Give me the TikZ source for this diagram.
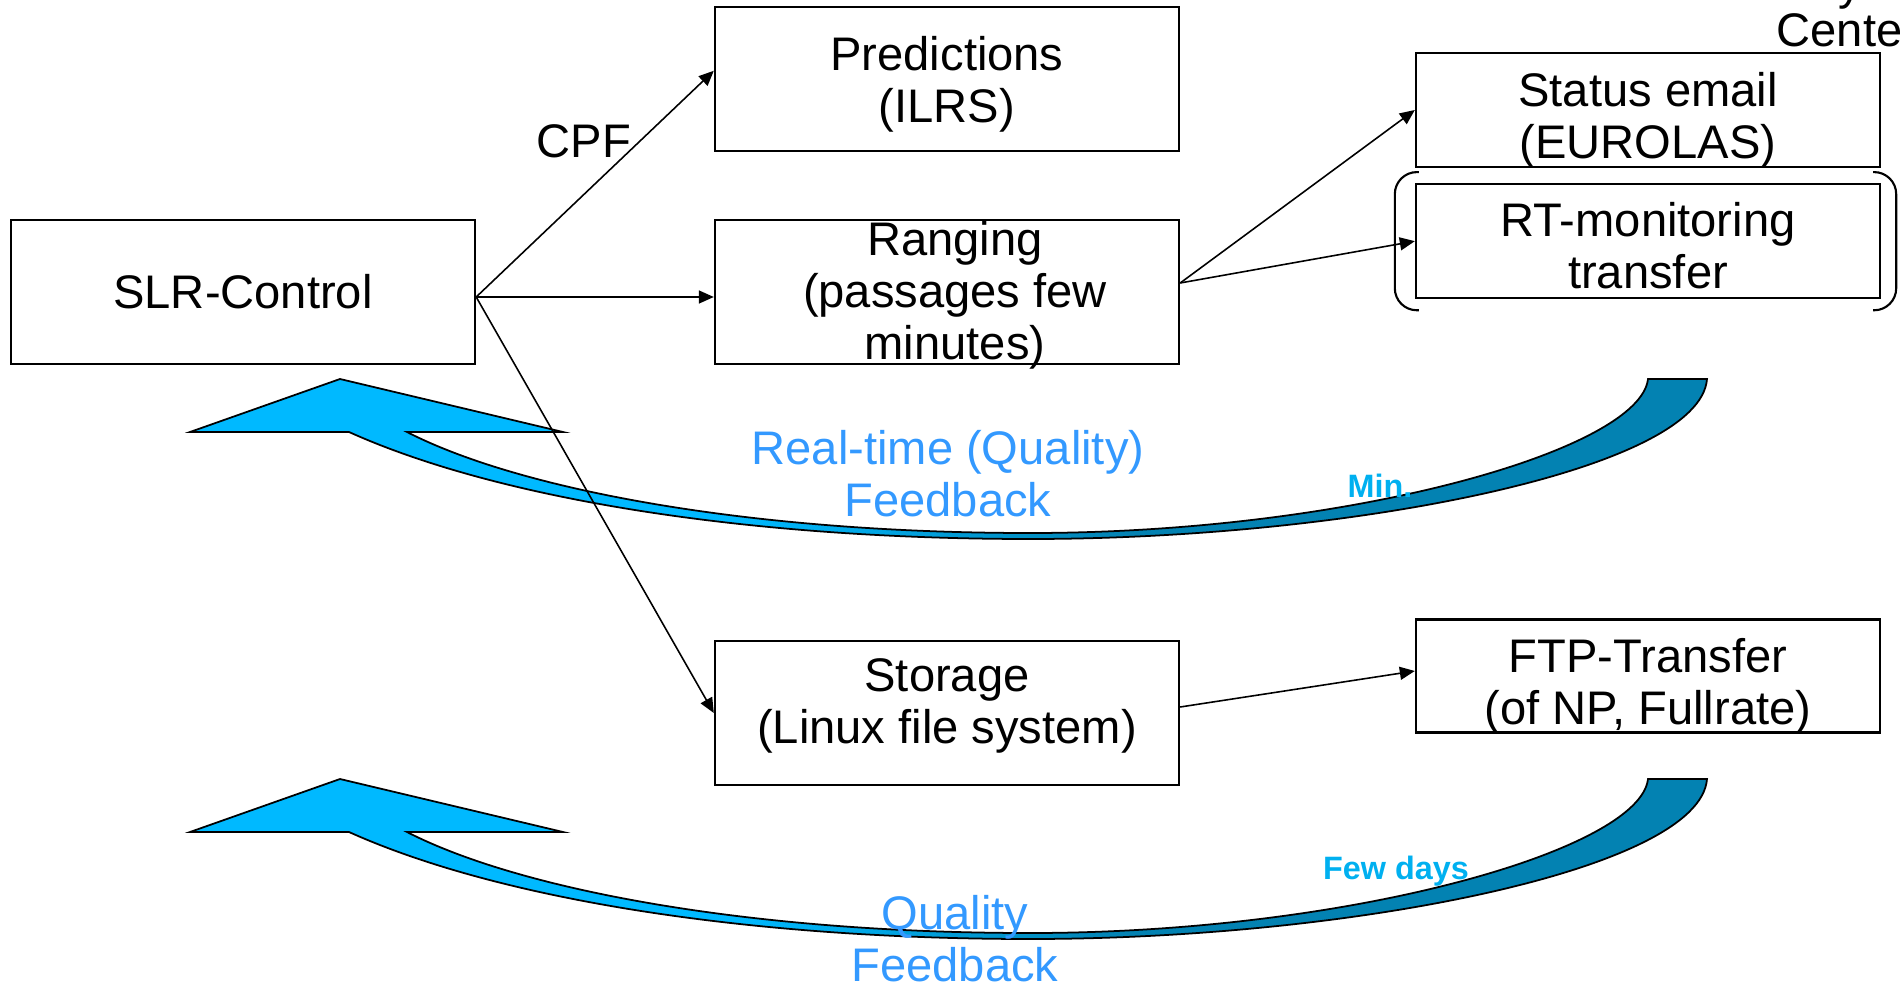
\documentclass[tikz,border=0pt]{standalone}
\usepackage{fontspec}
\setmainfont{Liberation Sans}
\usetikzlibrary{positioning,arrows.meta}

\definecolor{fbcyan}{RGB}{0,185,255}
\definecolor{fbdark}{RGB}{3,130,178}
\definecolor{fbtext}{RGB}{51,153,255}
\definecolor{timetext}{RGB}{0,176,240}

\pgfdeclarehorizontalshading{fbshade}{100bp}{color(0bp)=(fbcyan); color(43bp)=(fbcyan); color(56bp)=(fbdark); color(100bp)=(fbdark)}

\newcommand{\boxfont}{\fontsize{13.4}{14.8}\selectfont}
\newcommand{\timefont}{\fontsize{9.2}{10}\selectfont\bfseries}

\begin{document}
\begin{tikzpicture}[x=0.01cm, y=-0.01cm,
    box/.style = {draw, line width=0.6pt, minimum width=4.64cm, minimum height=1.44cm,
                  inner sep=0pt, align=center, font=\boxfont},
    sbox/.style = {box, minimum height=1.14cm},
    txt/.style = {align=center, inner sep=0pt, font=\boxfont},
    flow/.style = {line width=0.45pt, -{Triangle[length=0.15cm, width=0.13cm]}},
    fb/.style = {shading=fbshade, draw, line width=0.5pt},
    fbtxt/.style = {txt, text=fbtext},
    when/.style = {inner sep=0pt, text=timetext, font=\timefont}]
  \useasboundingbox (0,0) rectangle (1900,988);

  % feedback arrows
  \foreach \dy in {0,400}
    \shadedraw[fb, shift={(0,\dy)}] (340,379) -- (190,432) -- (349,432)
      .. controls (500,500) and (750,539) .. (1030,539)
      .. controls (1350,539) and (1700,470) .. (1707,379)
      -- (1648,379)
      .. controls (1640,450) and (1350,533) .. (1030,533)
      .. controls (750,533) and (520,490) .. (407,432)
      -- (563,432) -- cycle;

  % boxes
  \node[box] (slr) at (243,292) {SLR-Control};
  \node[box] (rng) at (947,292) {};
  \node[box, above=0.67cm of rng] (pred) {};
  \node[box] (stor) at (947,713) {};
  \node[sbox] (status) at (1648,110) {};
  \node[sbox, below=0.15cm of status] (rt) {};
  \node[sbox, minimum height=1.13cm] (ftp) at (1648,676) {};

  % box texts
  \node[txt] (rngtext) at ([shift={(8,3)}]rng.center) {Ranging\\(passages few\\minutes)};
  \node[txt] (predtext) at ([shift={(0,6)}]pred.center) {Predictions\\(ILRS)};
  \node[txt] (stortext) at ([shift={(0,-7)}]stor.center) {Storage\\(Linux file system)};
  \node[txt] (statustext) at ([shift={(0,10)}]status.center) {Status email\\(EUROLAS)};
  \node[txt] (rttext) at ([shift={(0,4)}]rt.center) {RT-monitoring\\transfer};
  \node[txt] (ftptext) at ([shift={(0,10)}]ftp.center) {FTP-Transfer\\(of NP, Fullrate)};

  \node[txt, anchor=base] (ytail) at (1850,0) {y};
  \node[txt, anchor=base west] (center) at (1776,47) {Cente};

  % brackets round RT-monitoring
  \draw[line width=0.6pt, rounded corners=0.22cm]
    ([shift={(4,-11)}]rt.north west) -| ([shift={(-20,11)}]rt.south west)
    -- ([shift={(4,11)}]rt.south west);
  \draw[line width=0.6pt, rounded corners=0.22cm]
    ([shift={(-8,-11)}]rt.north east) -| ([shift={(15,11)}]rt.south east)
    -- ([shift={(-8,11)}]rt.south east);

  % connectors
  \coordinate (fork) at ([yshift=-0.05cm]slr.east);
  \coordinate (rfork) at ([yshift=0.09cm]rng.east);
  \draw[flow] (fork) -- ([yshift=0.08cm]pred.west);
  \draw[flow] (fork) -- (fork -| rng.west);
  \draw[flow] (fork) -- (stor.west);
  \draw[flow] (rfork) -- (status.west);
  \draw[flow] (rfork) -- (rt.west);
  \draw[flow] ([yshift=0.06cm]stor.east) -- ([yshift=0.05cm]ftp.west);

  \node[txt] (cpf) at (584,141) {CPF};

  % labels of the feedback loops
  \node[fbtxt] (rtfb) at (948,474) {Real-time (Quality)\\Feedback};
  \node[fbtxt] (qfb) at (955,939) {Quality\\Feedback};
  \node[when] (mins) at (1380,486) {Min.};
  \node[when] (days) at (1396,871) {Few days};
\end{tikzpicture}
\end{document}
